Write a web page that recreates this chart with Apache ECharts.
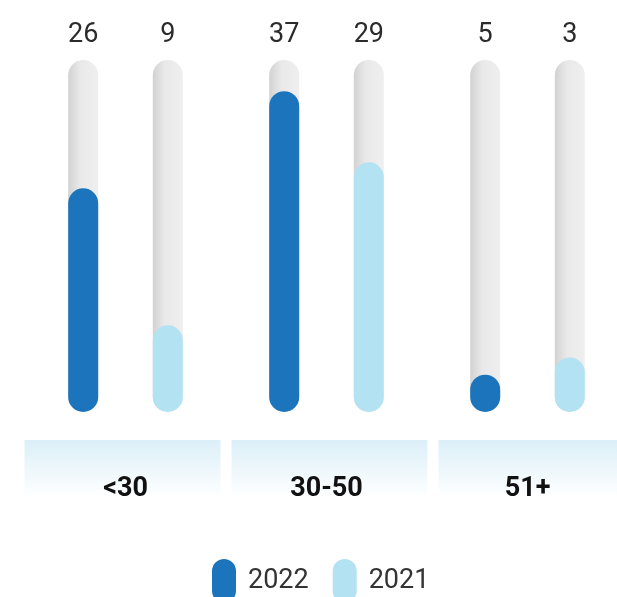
<!DOCTYPE html>
<html>
<head>
<meta charset="utf-8">
<script src="https://cdn.jsdelivr.net/npm/echarts@6/dist/echarts.min.js"></script>
<style>
  html, body { margin: 0; padding: 0; background: #fff; }
  #chart { width: 617px; height: 597px; }
</style>
</head>
<body>
<div id="chart"></div>
<script>
// categories + data
const categories = ['<30', '30-50', '51+'];
const seriesNames = ['2022', '2021'];
// numbers printed above the bars
const labels2022 = [26, 37, 5];
const labels2021 = [9, 29, 3];
// bar heights (same scale as the tracks)
const values2022 = [25.8, 37, 4.3];
const values2021 = [10, 28.8, 6.3];
const yMax = 40.6;
const tracks = [yMax, yMax, yMax];
const boxes = [1, 1, 1];

const dark = '#1c75bc';
const light = '#b3e2f2';

const trackColor = new echarts.graphic.LinearGradient(0, 0, 1, 0, [
  { offset: 0, color: '#d2d2d2' },
  { offset: 0.4, color: '#e9e9e9' },
  { offset: 1, color: '#efefef' }
]);
const boxColor = new echarts.graphic.LinearGradient(0, 0, 0, 1, [
  { offset: 0, color: '#dbeff8' },
  { offset: 1, color: '#ffffff' }
]);

const pill = 'path://M12,0 A12,12 0 0 1 24,12 L24,32 A12,12 0 0 1 12,44 A12,12 0 0 1 0,32 L0,12 A12,12 0 0 1 12,0 Z';

function trackSeries(name, lbls) {
  return {
    name: name + '-track',
    type: 'bar',
    xAxisIndex: 0,
    yAxisIndex: 0,
    barWidth: 30,
    barGap: '182%',
    data: tracks,
    silent: true,
    z: 1,
    itemStyle: { color: trackColor, borderRadius: 15 },
    label: {
      show: true,
      position: 'top',
      distance: 11,
      fontFamily: 'Roboto',
      fontSize: 27,
      color: '#2b2b2b',
      formatter: p => lbls[p.dataIndex]
    }
  };
}

function valueSeries(name, vals, color) {
  return {
    name: name,
    type: 'bar',
    xAxisIndex: 1,
    yAxisIndex: 1,
    barWidth: 30,
    barGap: '182%',
    data: vals,
    z: 2,
    itemStyle: { color: color, borderRadius: 15 }
  };
}

const option = {
  animation: false,
  backgroundColor: '#fff',
  grid: [
    { left: 25, width: 603, top: 60, bottom: 185, outerBoundsMode: 'none', containLabel: false },
    { left: 19, width: 621, top: 440, height: 58, outerBoundsMode: 'none', containLabel: false }
  ],
  xAxis: [
    {
      type: 'category', gridIndex: 0, data: categories, z: 5,
      axisLine: { show: false }, axisTick: { show: false },
      axisLabel: {
        show: true, margin: 64, fontFamily: 'Roboto', fontSize: 27,
        fontWeight: 'bold', color: '#111', hideOverlap: false
      }
    },
    {
      type: 'category', gridIndex: 0, data: categories, show: false
    },
    {
      type: 'category', gridIndex: 1, data: categories, show: false
    }
  ],
  yAxis: [
    { type: 'value', gridIndex: 0, min: 0, max: yMax, show: false, splitLine: { show: false } },
    { type: 'value', gridIndex: 0, min: 0, max: yMax, show: false, splitLine: { show: false } },
    { type: 'value', gridIndex: 1, min: 0, max: 1, show: false, splitLine: { show: false } }
  ],
  legend: {
    data: [
      { name: '2022', icon: pill, itemStyle: { color: dark } },
      { name: '2021', icon: pill, itemStyle: { color: light } }
    ],
    left: 207,
    top: 554,
    itemWidth: 24,
    itemHeight: 44,
    itemGap: 24,
    selectedMode: false,
    textStyle: {
      fontFamily: 'Roboto', fontSize: 27, color: '#333',
      padding: [0, 0, 0, 7]
    }
  },
  series: [
    {
      name: 'boxes',
      type: 'bar',
      xAxisIndex: 2,
      yAxisIndex: 2,
      barWidth: 196,
      data: boxes,
      silent: true,
      z: 0,
      itemStyle: { color: boxColor }
    },
    trackSeries(seriesNames[0], labels2022),
    trackSeries(seriesNames[1], labels2021),
    valueSeries(seriesNames[0], values2022, dark),
    valueSeries(seriesNames[1], values2021, light)
  ]
};

const myChart = echarts.init(document.getElementById('chart'));
myChart.setOption(option);
window.onresize = function () {
  myChart.resize();
};
</script>
</body>
</html>
